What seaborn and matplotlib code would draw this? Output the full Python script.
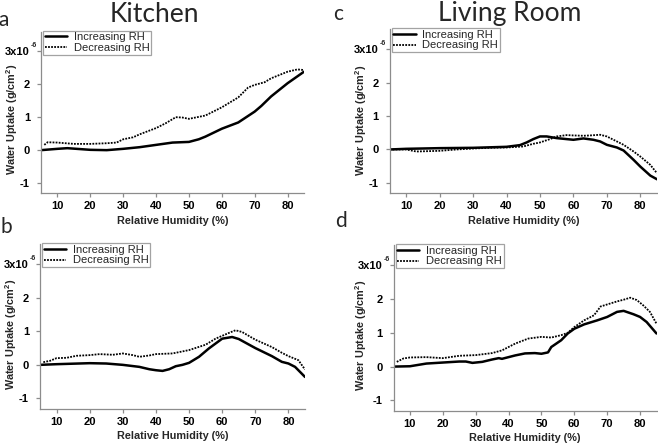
import matplotlib
matplotlib.use("Agg")
import matplotlib.pyplot as plt
import seaborn as sns
import pandas as pd

# ---------------- data ----------------
series_labels = ["Increasing RH", "Decreasing RH"]
panel_titles = ["Kitchen", "Living Room"]
panel_letters = ["a", "b", "c", "d"]
x_ticks = [10, 20, 30, 40, 50, 60, 70, 80]
y_ticks = [-1, 0, 1, 2, 3]
y_tick_labels = ["-1", "0", "1", "2", "3x10"]
y_top_exponent = "-6"

# panel a (Kitchen, top)
a_inc_x = [5, 10, 13, 20, 25, 30, 35, 40, 45, 50, 53, 55, 60, 65, 70, 72, 75, 80, 85]
a_inc_y = [0, 0.04, 0.06, 0.01, 0, 0.04, 0.09, 0.16, 0.23, 0.25, 0.33, 0.41, 0.65, 0.84, 1.17, 1.34, 1.63, 2.03, 2.38]
a_dec_x = [6, 7, 10, 15, 20, 25, 28, 30, 33, 35, 40, 43, 46, 48, 50, 55, 60, 65, 68, 70, 73, 75, 80, 83, 85]
a_dec_y = [0.16, 0.24, 0.23, 0.19, 0.19, 0.21, 0.23, 0.33, 0.39, 0.48, 0.67, 0.82, 1.0, 0.99, 0.95, 1.05, 1.30, 1.6, 1.9, 1.98, 2.06, 2.18, 2.38, 2.45, 2.43]

# panel b (Kitchen, bottom)
b_inc_x = [5, 10, 20, 25, 30, 35, 38, 40, 42, 44, 46, 48, 50, 53, 56, 60, 63, 65, 70, 75, 78, 80, 82, 85]
b_inc_y = [0, 0.02, 0.05, 0.04, 0, -0.06, -0.13, -0.16, -0.18, -0.13, -0.04, 0, 0.06, 0.24, 0.49, 0.78, 0.83, 0.77, 0.5, 0.26, 0.09, 0.04, -0.06, -0.36]
b_dec_x = [6, 8, 10, 13, 16, 20, 23, 27, 30, 33, 35, 38, 40, 45, 50, 55, 58, 62, 64, 66, 70, 75, 78, 80, 83, 85]
b_dec_y = [0.08, 0.12, 0.2, 0.21, 0.27, 0.29, 0.32, 0.3, 0.34, 0.29, 0.24, 0.28, 0.32, 0.34, 0.44, 0.6, 0.78, 0.95, 1.03, 0.98, 0.75, 0.53, 0.36, 0.26, 0.14, -0.14]

# panel c (Living Room, top)
c_inc_x = [5, 10, 20, 30, 40, 44, 46, 48, 50, 52, 55, 58, 60, 63, 66, 68, 70, 73, 75, 78, 80, 83, 85]
c_inc_y = [0, 0.02, 0.04, 0.05, 0.08, 0.13, 0.21, 0.31, 0.39, 0.39, 0.34, 0.31, 0.29, 0.33, 0.29, 0.24, 0.14, 0.06, -0.03, -0.31, -0.51, -0.78, -0.89]
c_dec_x = [5, 10, 13, 20, 25, 30, 35, 40, 45, 48, 50, 53, 55, 58, 60, 63, 65, 68, 70, 73, 75, 78, 80, 83, 85]
c_dec_y = [0, 0, -0.06, -0.04, 0, 0.03, 0.05, 0.06, 0.09, 0.17, 0.21, 0.31, 0.39, 0.43, 0.42, 0.41, 0.42, 0.44, 0.39, 0.24, 0.14, -0.06, -0.21, -0.46, -0.71]

# panel d (Living Room, bottom)
d_inc_x = [5, 10, 15, 20, 25, 27, 29, 32, 35, 37, 38, 42, 45, 48, 50, 52, 53, 56, 58, 60, 63, 67, 70, 73, 75, 78, 80, 82, 85]
d_inc_y = [0, 0.01, 0.09, 0.12, 0.15, 0.15, 0.11, 0.14, 0.21, 0.25, 0.23, 0.33, 0.39, 0.4, 0.38, 0.42, 0.58, 0.78, 0.98, 1.12, 1.25, 1.37, 1.47, 1.62, 1.65, 1.55, 1.47, 1.32, 0.98]
d_dec_x = [6, 8, 10, 15, 20, 25, 30, 35, 38, 42, 46, 50, 53, 56, 58, 60, 63, 66, 68, 70, 73, 75, 77, 79, 81, 83, 85]
d_dec_y = [0.14, 0.24, 0.27, 0.28, 0.25, 0.32, 0.34, 0.4, 0.48, 0.68, 0.83, 0.88, 0.86, 0.93, 1.0, 1.17, 1.37, 1.52, 1.78, 1.84, 1.93, 1.98, 2.04, 1.97, 1.81, 1.62, 1.27]

# ---------------- style ----------------
sns.set_style("ticks")
plt.rcParams["font.family"] = ["Liberation Sans", "DejaVu Sans"]
plt.rcParams["mathtext.fontset"] = "custom"
plt.rcParams["mathtext.rm"] = "Liberation Sans"
plt.rcParams["mathtext.bf"] = "Liberation Sans:bold"
plt.rcParams["mathtext.it"] = "Liberation Sans:italic"

W, H = 658, 446
fig = plt.figure(figsize=(W / 100, H / 100), dpi=100)

def px_axes(left, right, top, bottom):
    return fig.add_axes([left / W, 1 - bottom / H, (right - left) / W, (bottom - top) / H])

# (axes box in px), (y-label right edge x, centre y in px)
layout = [
    ((41, 304, 31.5, 193), (20, 119)),
    ((40, 305, 244, 408.5), (19, 334)),
    ((389.5, 657, 29, 193), (369, 120)),
    ((393.5, 656.5, 245, 410.5), (369, 335)),
]
data = [
    (a_inc_x, a_inc_y, a_dec_x, a_dec_y),
    (b_inc_x, b_inc_y, b_dec_x, b_dec_y),
    (c_inc_x, c_inc_y, c_dec_x, c_dec_y),
    (d_inc_x, d_inc_y, d_dec_x, d_dec_y),
]

grey = "#8c8c8c"
tick_fs = 8
label_fs = 7.8
for (box, ylab), (ix, iy, dx, dy) in zip(layout, data):
    ax = px_axes(*box)
    l, r, t, b = box
    df = pd.concat([
        pd.DataFrame({"RH": ix, "uptake": iy, "series": series_labels[0]}),
        pd.DataFrame({"RH": dx, "uptake": dy, "series": series_labels[1]}),
    ])
    sns.lineplot(data=df, x="RH", y="uptake", style="series", hue="series",
                 palette=["black", "black"],
                 dashes={series_labels[0]: "", series_labels[1]: (1, 0.7)},
                 sort=False, estimator=None, ax=ax, linewidth=1.6)
    for line, lw in zip(ax.get_lines()[:2], [1.8, 1.3]):
        line.set_linewidth(lw)
    ax.set_xlim(5, 85)
    ax.set_ylim(-1.3, 3.6)
    ax.set_xticks(x_ticks)
    ax.set_xticklabels([str(tk) for tk in x_ticks], fontweight="bold", fontsize=tick_fs)
    ax.set_yticks(y_ticks)
    ax.set_yticklabels(y_tick_labels, fontweight="bold", fontsize=tick_fs)
    ax.annotate(y_top_exponent, xy=(0, y_ticks[-1]), xycoords=ax.get_yaxis_transform(),
                xytext=(-4, 2), textcoords="offset pixels", ha="right", va="bottom",
                fontsize=5, fontweight="bold", annotation_clip=False)
    ax.set_xlabel("Relative Humidity (%)", fontweight="bold", fontsize=label_fs, labelpad=3)
    ax.set_ylabel(r"Water Uptake (g/cm$^\mathbf{2}$)", fontweight="bold", fontsize=label_fs)
    ax.yaxis.set_label_coords((ylab[0] - l) / (r - l), (b - ylab[1]) / (b - t))
    for s in ["top", "right"]:
        ax.spines[s].set_visible(False)
    for s in ["left", "bottom"]:
        ax.spines[s].set_color(grey)
        ax.spines[s].set_linewidth(0.9)
    ax.tick_params(axis="both", direction="out", length=3, width=0.9, color=grey, pad=3,
                   labelcolor="black")
    ax.tick_params(axis="y", pad=5)
    leg = ax.legend(loc="upper left", bbox_to_anchor=(0.008, 1.005), fontsize=8,
                    frameon=True, fancybox=False, borderpad=0.15, labelspacing=0.05,
                    handlelength=2.0, handletextpad=0.6, borderaxespad=0)
    leg.get_frame().set_edgecolor(grey)
    leg.get_frame().set_linewidth(0.9)
    for lh, lw in zip(leg.get_lines(), [1.8, 1.3]):
        lh.set_linewidth(lw)

title_font = ["Lato", "DejaVu Sans"]
fig.text(154 / W, 1 - 14 / H, panel_titles[0], ha="center", va="center", fontsize=19, family=title_font)
fig.text(510 / W, 1 - 14 / H, panel_titles[1], ha="center", va="center", fontsize=19, family=title_font)
letter_pos = [(4, 20), (6, 227), (338, 14), (341, 221)]
for letter, (lx, ly) in zip(panel_letters, letter_pos):
    fig.text(lx / W, 1 - ly / H, letter, ha="center", va="center", fontsize=15, family=title_font)

fig.savefig("out.png", dpi=100)
